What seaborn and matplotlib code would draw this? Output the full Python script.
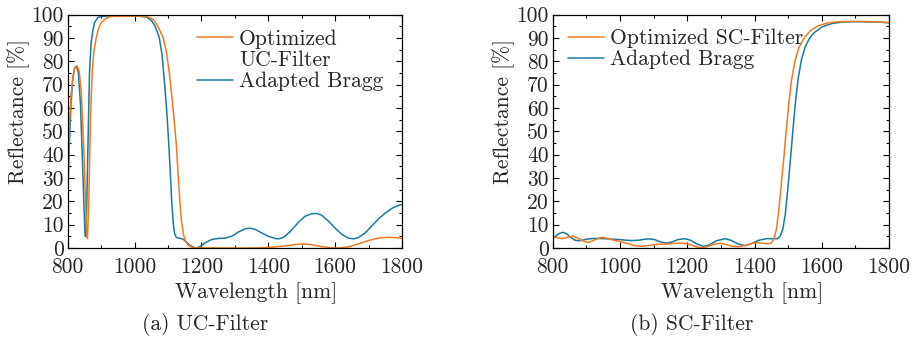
import numpy as np
import pandas as pd
import matplotlib
matplotlib.use("Agg")
import matplotlib.pyplot as plt
from matplotlib.lines import Line2D
from matplotlib.ticker import MultipleLocator
import seaborn as sns

# ---------------- data ----------------
uc_bragg_wl = [800, 805, 810, 815, 820, 826, 832, 838, 843, 848, 852, 855, 860, 865, 870, 875, 880, 890, 900,
               950, 1000, 1036, 1050, 1060, 1068, 1074, 1082, 1090, 1097, 1102, 1107, 1111, 1116, 1120, 1125,
               1135, 1145, 1155, 1165, 1175, 1186, 1200, 1215, 1230, 1250, 1270, 1290, 1310, 1330, 1345, 1360,
               1380, 1400, 1420, 1430, 1445, 1465, 1490, 1510, 1530, 1545, 1560, 1580, 1600, 1620, 1640, 1655,
               1670, 1690, 1710, 1730, 1750, 1770, 1785, 1800]
uc_bragg_r = [22, 45, 62, 72, 77, 78, 75, 62, 42, 20, 5, 5, 40, 75, 88, 93, 96.5, 98.8, 99.3,
              99.6, 99.5, 99, 97.5, 95.5, 92.5, 90, 83, 70, 57, 45, 32, 20, 10, 6, 4.5,
              4.2, 3.8, 2.5, 1.2, 0.4, 0.0, 1.0, 2.5, 3.6, 4.1, 4.2, 5.0, 6.8, 8.2, 8.5, 8.0,
              6.5, 5.0, 4.1, 3.9, 4.5, 7.0, 11, 13.6, 14.7, 14.8, 14, 11.5, 8.5, 5.8, 4.2, 3.9,
              4.5, 6.5, 9.5, 12.5, 15, 17, 18, 18.7]

uc_opt_wl = [800, 805, 810, 816, 822, 828, 834, 840, 846, 851, 856, 859, 863, 868, 873, 878, 885, 892, 900,
             915, 930, 1000, 1036, 1055, 1066, 1076, 1086, 1095, 1104, 1112, 1119, 1125, 1130, 1135, 1140,
             1146, 1152, 1160, 1170, 1180, 1250, 1350, 1400, 1450, 1480, 1505, 1530, 1560, 1590, 1610,
             1640, 1670, 1700, 1730, 1760, 1785, 1800]
uc_opt_r = [30, 52, 66, 74, 77.5, 78, 76, 68, 50, 30, 8, 4, 20, 55, 75, 84, 90, 94, 96.5,
            98.5, 99.2, 99.4, 99.2, 98, 96, 93, 90, 84, 75, 64, 54, 44, 32, 21, 12,
            6, 3, 1.2, 0.4, 0.05, 0, 0, 0.2, 0.9, 1.5, 1.7, 1.4, 0.6, 0.05, 0,
            0.5, 1.8, 3.2, 4.3, 4.6, 4.4, 4.1]

sc_bragg_wl = [800, 810, 820, 831, 842, 853, 865, 876, 890, 905, 926, 950, 975, 1000, 1020, 1040, 1060,
               1075, 1090, 1105, 1120, 1139, 1155, 1172, 1193, 1210, 1228, 1248, 1265, 1285, 1312, 1330,
               1350, 1372, 1390, 1410, 1436, 1455, 1468, 1476, 1484, 1492, 1500, 1508, 1515, 1522, 1530,
               1540, 1550, 1562, 1575, 1600, 1630, 1660, 1700, 1750, 1780, 1800]
sc_bragg_r = [4.1, 5.2, 6.3, 6.7, 6.0, 4.6, 3.4, 3.1, 3.4, 3.9, 4.1, 4.0, 3.8, 3.6, 3.3, 3.2, 3.4,
              3.8, 3.9, 3.5, 2.6, 2.1, 2.6, 3.6, 4.0, 3.3, 1.8, 0.7, 1.3, 3.0, 4.0, 3.3,
              1.8, 1.0, 1.8, 3.2, 4.0, 4.0, 4.0, 5, 8, 15, 27, 40, 52, 63, 73,
              81, 86, 89.5, 92, 94.7, 96.2, 96.8, 97, 96.9, 96.7, 96.5]

sc_opt_wl = [800, 815, 829, 845, 861, 875, 890, 906, 925, 946, 965, 985, 1000, 1020, 1040, 1065, 1085,
             1110, 1140, 1165, 1184, 1205, 1225, 1243, 1260, 1280, 1298, 1318, 1335, 1352, 1370, 1390,
             1407, 1425, 1440, 1450, 1458, 1465, 1472, 1480, 1488, 1494, 1502, 1510, 1520, 1532, 1548,
             1565, 1590, 1620, 1650, 1700, 1750, 1800]
sc_opt_r = [5.1, 4.3, 4.0, 4.6, 5.1, 4.2, 3.0, 2.4, 3.5, 4.6, 4.0, 3.2, 2.8, 2.0, 1.1, 0.7, 1.1,
            1.5, 1.7, 2.0, 2.1, 1.6, 0.6, 0.1, 0.6, 1.6, 2.0, 1.4, 0.7, 0.5, 1.0, 1.9,
            2.3, 2.0, 1.8, 2.2, 4, 8, 16, 28, 40, 50, 62, 72, 80, 86, 90,
            93, 95.3, 96.5, 97, 97.1, 97, 96.6]

x_ticks = [800, 1000, 1200, 1400, 1600, 1800]
y_ticks = [0, 10, 20, 30, 40, 50, 60, 70, 80, 90, 100]
labels_uc = ["Optimized", "UC-Filter", "Adapted Bragg"]
labels_sc = ["Optimized SC-Filter", "Adapted Bragg"]
captions = ["(a) UC-Filter", "(b) SC-Filter"]

ORANGE = "#EE7A24"
TEAL = "#1A7A9C"

# ---------------- style ----------------
sns.set_theme(style="ticks")
plt.rcParams["font.family"] = ["cmr10", "DejaVu Serif"]
plt.rcParams["axes.formatter.use_mathtext"] = True
plt.rcParams["mathtext.fontset"] = "cm"
FS = 15.5
plt.rcParams["font.size"] = FS

fig = plt.figure(figsize=(9.24, 3.44), dpi=100)
ax1 = fig.add_axes([0.0733, 0.2791, 0.3618, 0.6783])
ax2 = fig.add_axes([0.5982, 0.2791, 0.3640, 0.6783])

df_uc_b = pd.DataFrame({"wl": uc_bragg_wl, "r": uc_bragg_r})
df_uc_o = pd.DataFrame({"wl": uc_opt_wl, "r": uc_opt_r})
df_sc_b = pd.DataFrame({"wl": sc_bragg_wl, "r": sc_bragg_r})
df_sc_o = pd.DataFrame({"wl": sc_opt_wl, "r": sc_opt_r})

LW = 1.1
sns.lineplot(data=df_uc_b, x="wl", y="r", ax=ax1, color=TEAL, lw=LW, sort=False)
sns.lineplot(data=df_uc_o, x="wl", y="r", ax=ax1, color=ORANGE, lw=LW, sort=False)
sns.lineplot(data=df_sc_b, x="wl", y="r", ax=ax2, color=TEAL, lw=LW, sort=False)
sns.lineplot(data=df_sc_o, x="wl", y="r", ax=ax2, color=ORANGE, lw=LW, sort=False)

for ax in (ax1, ax2):
    ax.set_xlim(800, 1800)
    ax.set_ylim(0, 100)
    ax.set_xticks(x_ticks)
    ax.set_xticklabels([str(t) for t in x_ticks], fontsize=FS)
    ax.set_yticks(y_ticks)
    ax.set_yticklabels([str(t) for t in y_ticks], fontsize=FS)
    ax.xaxis.set_minor_locator(MultipleLocator(100))
    ax.yaxis.set_minor_locator(MultipleLocator(5))
    ax.tick_params(which="both", direction="in", top=True, right=True, color="black", width=0.8)
    ax.tick_params(which="major", length=4)
    ax.tick_params(which="minor", length=2.5)
    ax.tick_params(axis="x", which="major", pad=7)
    ax.tick_params(axis="y", which="major", pad=3)
    for s in ax.spines.values():
        s.set_color("black")
        s.set_linewidth(0.9)
    ax.set_xlabel("Wavelength [nm]", fontsize=FS)
    ax.set_ylabel("Reflectance [%]", fontsize=FS)
    ax.xaxis.label.set_va("center")
    ax.yaxis.label.set_va("center")
    ax.xaxis.set_label_coords(0.563, -0.193)
    ax.yaxis.set_label_coords(-0.147, 0.583)
    ax.grid(False)

h_o = Line2D([], [], color=ORANGE, lw=LW)
h_b = Line2D([], [], color=TEAL, lw=LW)
h_none = Line2D([], [], color="none", lw=0)

leg_kw = dict(frameon=False, loc="upper left", borderpad=0, borderaxespad=0,
              handlelength=1.65, handletextpad=0.3, labelspacing=0.08, fontsize=FS)
ax1.legend([h_o, h_none, h_b], labels_uc, bbox_to_anchor=(0.387, 0.938), **leg_kw)
ax2.legend([h_o, h_b], labels_sc, bbox_to_anchor=(0.0455, 0.94), **leg_kw)

fig.text(205 / 924, 1 - 325 / 344, captions[0], ha="center", va="center", fontsize=FS)
fig.text(692 / 924, 1 - 325 / 344, captions[1], ha="center", va="center", fontsize=FS)

fig.savefig("out.png", dpi=100, facecolor="white")
